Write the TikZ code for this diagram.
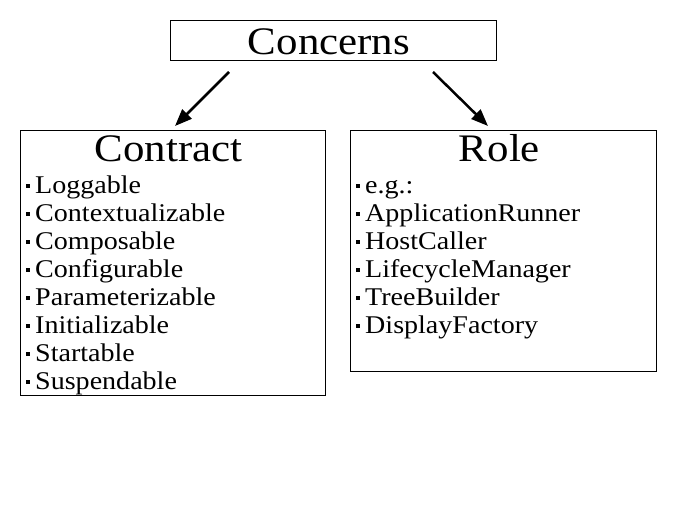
\documentclass[tikz,border=0pt]{standalone}
\usepackage{fontspec}
\usetikzlibrary{arrows.meta}
\setmainfont[FakeStretch=1.1]{Liberation Serif}
\begin{document}
\begin{tikzpicture}[x=1pt,y=-1pt,
  frame/.style={draw=black,line width=1pt,fill=white},
  title/.style={font=\fontsize{39}{39}\selectfont,anchor=base,inner sep=0pt},
  entry/.style={font=\fontsize{25.5}{25.5}\selectfont,anchor=base west,inner sep=0pt},
  bul/.style={fill=black,minimum size=4.5pt,inner sep=0pt},
  arr/.style={-{Stealth[length=17pt,width=13pt,inset=0pt]},line width=2.5pt}]
\useasboundingbox (0,0) rectangle (680,510);
\node[frame,minimum width=326pt,minimum height=40pt,anchor=north west] (concerns) at (170,20) {};
\node[title] (concernsT) at (329,55) {Concerns};
\node[frame,minimum width=305pt,minimum height=265pt,anchor=north west] (contract) at (20,130) {};
\node[title] (contractT) at (168.5,161.5) {Contract};
\node[frame,minimum width=306pt,minimum height=241pt,anchor=north west] (role) at (350,130) {};
\node[title] (roleT) at (499.5,161.5) {Role};
\coordinate (a1) at (229,72);
\coordinate (a2) at (175,126);
\coordinate (b1) at (433,72);
\coordinate (b2) at (488,126);
\draw[arr] (a1) -- (a2);
\draw[arr] (b1) -- (b2);
\foreach \t [count=\i] in {Loggable,Contextualizable,Composable,Configurable,Parameterizable,Initializable,Startable,Suspendable}{
  \node[bul] (lb\i) at (28,{186+28*(\i-1)}) {};
  \node[entry] (lt\i) at (35,{193.5+28*(\i-1)}) {\t};
}
\foreach \t [count=\i] in {e.g.:,ApplicationRunner,HostCaller,LifecycleManager,TreeBuilder,DisplayFactory}{
  \node[bul] (rb\i) at (358,{186+28*(\i-1)}) {};
  \node[entry] (rt\i) at (365,{193.5+28*(\i-1)}) {\t};
}
\end{tikzpicture}
\end{document}
